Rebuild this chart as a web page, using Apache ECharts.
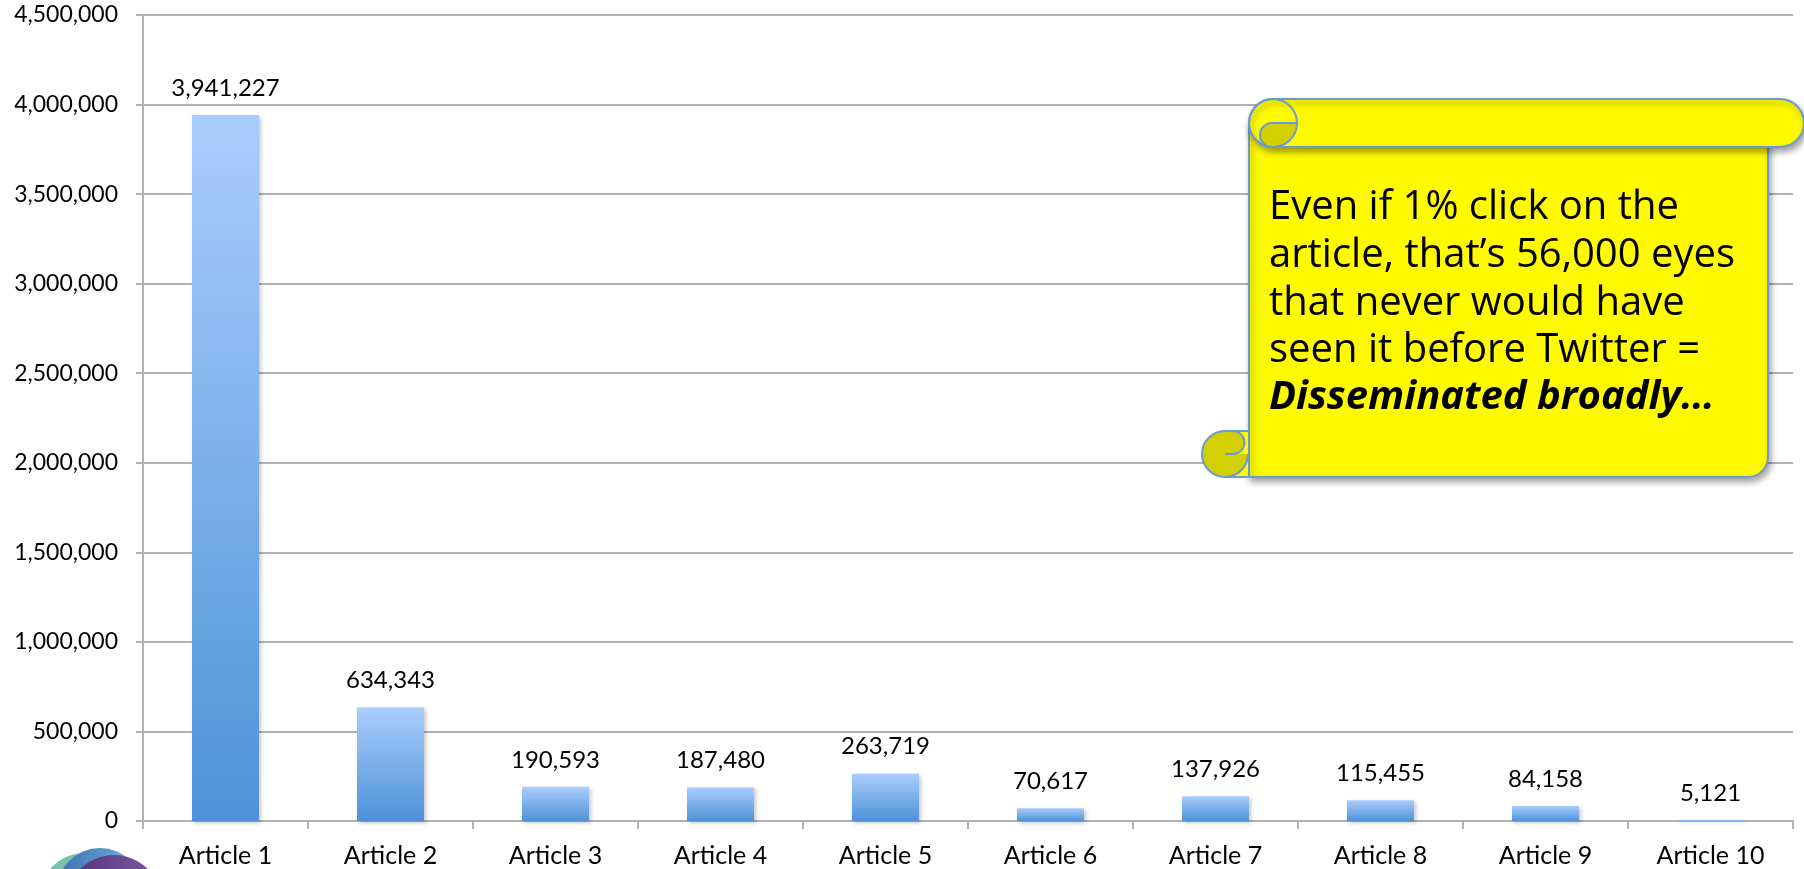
<!DOCTYPE html>
<html>
<head>
<meta charset="utf-8">
<script src="https://cdn.jsdelivr.net/npm/echarts@6/dist/echarts.min.js"></script>
<style>
  html, body { margin: 0; padding: 0; background: #fff; }
  #chart { width: 1804px; height: 869px; }
</style>
</head>
<body>
<div id="chart"></div>
<script>
const categories = ['Article 1', 'Article 2', 'Article 3', 'Article 4', 'Article 5',
                    'Article 6', 'Article 7', 'Article 8', 'Article 9', 'Article 10'];
const views = [3941227, 634343, 190593, 187480, 263719, 70617, 137926, 115455, 84158, 5121];
const yMin = 0;
const yMax = 4500000;
const yStep = 500000;
const calloutLines = [
  'Even if 1% click on the',
  'article, that\u2019s 56,000 eyes',
  'that never would have',
  'seen it before Twitter ='
];
const calloutEmphasis = 'Disseminated broadly\u2026';

const fmt = v => Number(v).toLocaleString('en-US');
const chart = echarts.init(document.getElementById('chart'));

const YEL = '#fffa00';
const OLV = '#d4cf00';
const BLU = '#6b9bd4';
const SH = { shadowBlur: 6, shadowOffsetX: 2, shadowOffsetY: 4, shadowColor: 'rgba(0,0,0,0.35)' };

const graphics = [
  // logo circles bottom-left
  { type: 'circle', z: 1, shape: { cx: 85, cy: 899, r: 46 }, style: { fill: '#74c2ae' } },
  { type: 'circle', z: 2, shape: { cx: 100, cy: 891, r: 43 },
    style: { fill: { type: 'linear', x: 0, y: 0, x2: 1, y2: 0, colorStops: [{ offset: 0, color: '#3f6fae' }, { offset: 1, color: '#72b6e2' }] } } },
  { type: 'circle', z: 3, shape: { cx: 114, cy: 903, r: 48 },
    style: { fill: { type: 'linear', x: 0, y: 0, x2: 1, y2: 0, colorStops: [{ offset: 0, color: '#552f7c' }, { offset: 1, color: '#7d5ba3' }] } } },

  // callout body
  { type: 'rect', z: 100, shape: { x: 1249, y: 123, width: 519, height: 354, r: [0, 0, 20, 0] },
    style: Object.assign({ fill: YEL, stroke: BLU, lineWidth: 2 }, SH) },
  // top roll
  { type: 'rect', z: 101, shape: { x: 1249, y: 99, width: 555, height: 48, r: 24 },
    style: Object.assign({ fill: YEL, stroke: BLU, lineWidth: 2 }, SH) },
  // top-left curl
  { type: 'sector', z: 102, shape: { cx: 1273, cy: 123, r0: 0, r: 24, startAngle: 0, endAngle: Math.PI / 2 }, style: { fill: OLV } },
  { type: 'circle', z: 102, shape: { cx: 1272, cy: 135, r: 12 }, style: { fill: OLV } },
  { type: 'circle', z: 103, shape: { cx: 1273, cy: 123, r: 24 }, style: { fill: 'none', stroke: BLU, lineWidth: 2 } },
  { type: 'line', z: 103, shape: { x1: 1272, y1: 123, x2: 1297, y2: 123 }, style: { stroke: BLU, lineWidth: 2 } },
  { type: 'arc', z: 103, shape: { cx: 1272, cy: 135, r: 12, startAngle: Math.PI / 2, endAngle: Math.PI * 1.5 }, style: { stroke: BLU, lineWidth: 2, fill: 'none' } },
  // bottom-left curl
  { type: 'rect', z: 102, shape: { x: 1225, y: 454, width: 25, height: 23 }, style: { fill: YEL } },
  { type: 'circle', z: 103, shape: { cx: 1225, cy: 454, r: 23 }, style: { fill: OLV, stroke: BLU, lineWidth: 2 } },
  { type: 'rect', z: 104, shape: { x: 1233, y: 431, width: 16, height: 23 }, style: { fill: YEL } },
  { type: 'circle', z: 105, shape: { cx: 1233, cy: 442.5, r: 11.5 }, style: { fill: OLV } },
  { type: 'arc', z: 106, shape: { cx: 1233, cy: 442.5, r: 11.5, startAngle: -Math.PI / 2, endAngle: Math.PI / 2 }, style: { stroke: BLU, lineWidth: 2, fill: 'none' } },
  { type: 'line', z: 106, shape: { x1: 1222, y1: 431, x2: 1249, y2: 431 }, style: { stroke: BLU, lineWidth: 2 } },
  { type: 'line', z: 106, shape: { x1: 1225, y1: 454, x2: 1234, y2: 454 }, style: { stroke: BLU, lineWidth: 2 } },
  { type: 'line', z: 106, shape: { x1: 1249, y1: 431, x2: 1249, y2: 477 }, style: { stroke: BLU, lineWidth: 2 } },
  { type: 'line', z: 106, shape: { x1: 1225, y1: 477, x2: 1252, y2: 477 }, style: { stroke: BLU, lineWidth: 2 } }
];

const baselines = [220, 268, 316, 363, 410];
const FS = 40;
calloutLines.forEach((t, i) => {
  graphics.push({ type: 'text', z: 110, x: 1269, y: baselines[i] - 12.5,
    style: { text: t, fill: '#000', font: FS + 'px "Open Sans"', verticalAlign: 'middle', align: 'left' } });
});
graphics.push({ type: 'text', z: 110, x: 1269, y: baselines[4] - 12.5,
  style: { text: calloutEmphasis, fill: '#000', font: 'italic bold ' + FS + 'px "Open Sans"', verticalAlign: 'middle', align: 'left' } });

const GRID = '#b0b0b0';
chart.setOption({
  animation: false,
  backgroundColor: '#ffffff',
  grid: { left: 143, right: 11, top: 15, bottom: 48, containLabel: false },
  xAxis: {
    type: 'category',
    data: categories,
    axisLine: { show: true, lineStyle: { color: GRID, width: 2 } },
    axisTick: { show: true, length: 8, interval: 0, lineStyle: { color: GRID, width: 2 } },
    axisLabel: { interval: 0, margin: 22, color: '#000', fontFamily: 'Lato', fontSize: 25 }
  },
  yAxis: {
    type: 'value',
    min: yMin, max: yMax, interval: yStep,
    axisLine: { show: true, lineStyle: { color: GRID, width: 2 } },
    axisTick: { show: true, length: 7, lineStyle: { color: GRID, width: 2 } },
    splitLine: { show: true, lineStyle: { color: GRID, width: 2 } },
    axisLabel: { margin: 25, color: '#000', fontFamily: 'Lato', fontSize: 23, padding: [6, 0, 0, 0], formatter: v => fmt(v) }
  },
  series: [{
    type: 'bar',
    data: views,
    barWidth: 67,
    itemStyle: {
      color: { type: 'linear', x: 0, y: 0, x2: 0, y2: 1,
        colorStops: [{ offset: 0, color: '#aacdfd' }, { offset: 1, color: '#4d92d8' }] },
      shadowBlur: 4, shadowOffsetX: 2, shadowOffsetY: 2, shadowColor: 'rgba(0,0,0,0.22)'
    },
    label: { show: true, position: 'top', distance: 15, color: '#000', fontFamily: 'Lato', fontSize: 24,
      formatter: p => fmt(p.value) }
  }],
  graphic: graphics
});
</script>
</body>
</html>
